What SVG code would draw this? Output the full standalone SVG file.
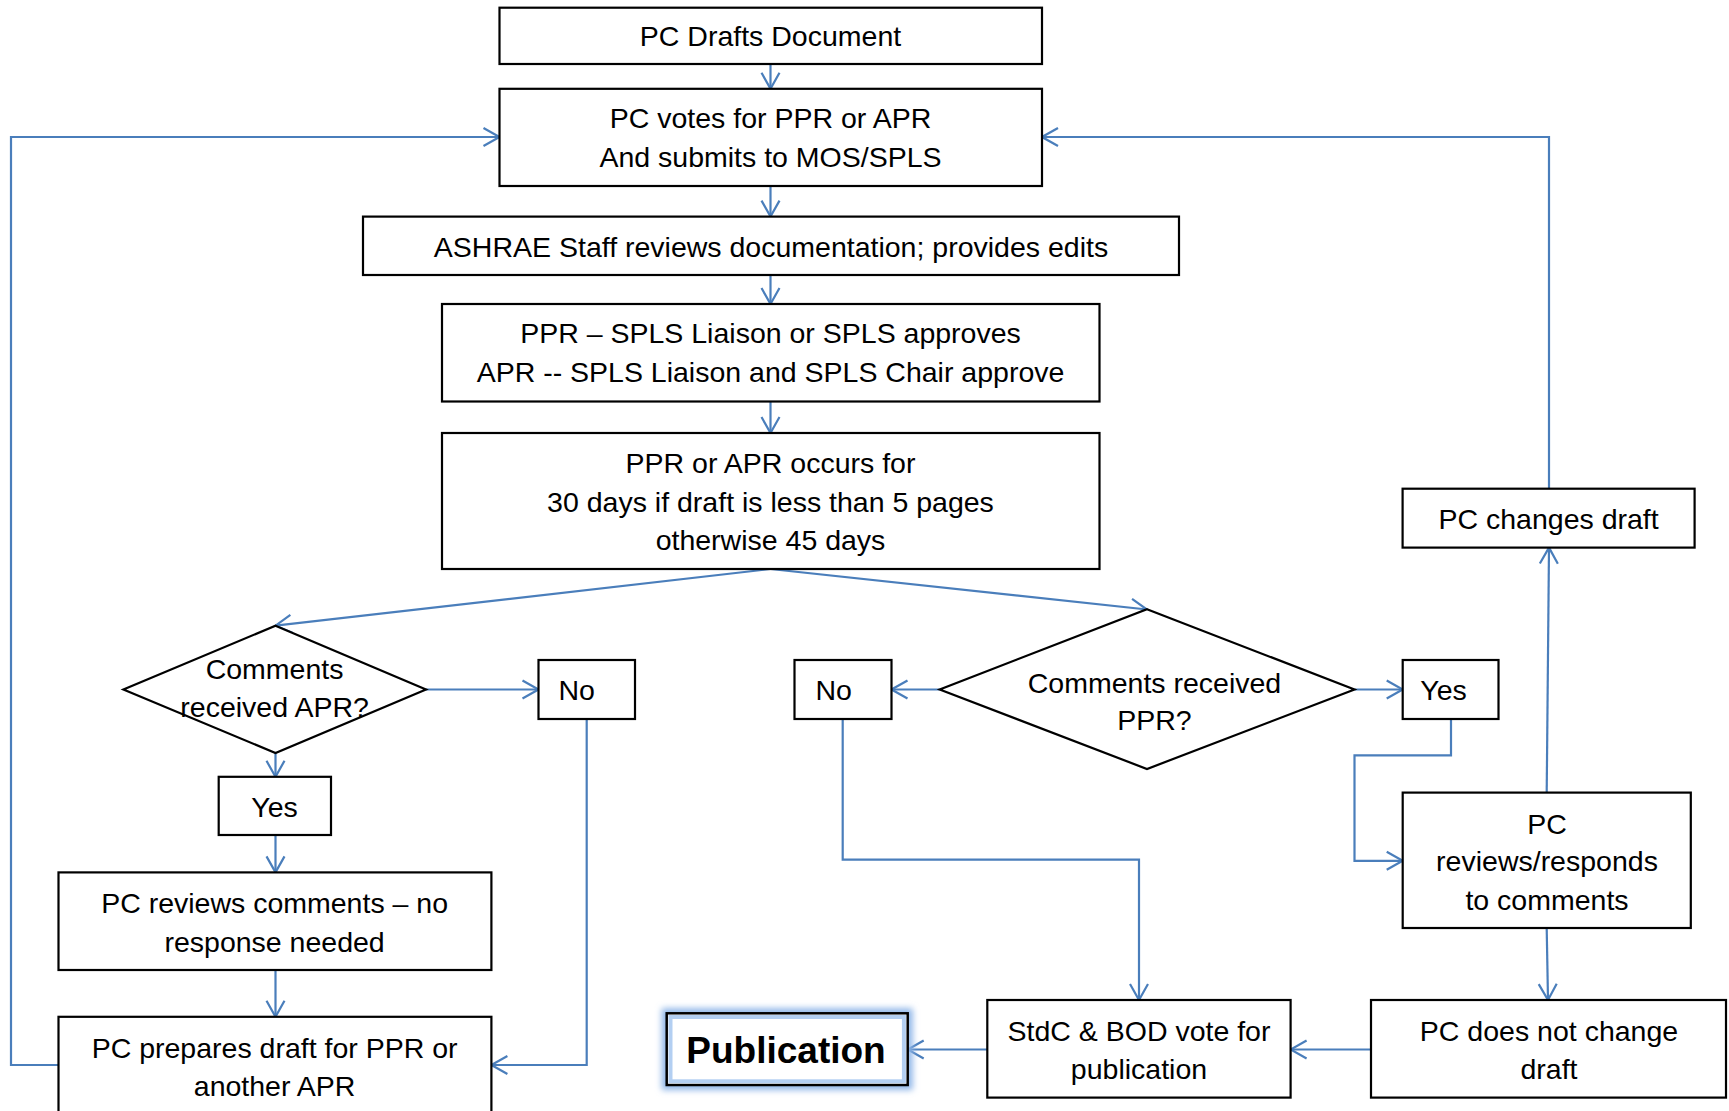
<svg xmlns="http://www.w3.org/2000/svg" width="1729" height="1111" viewBox="0 0 1729 1111">
<style>
.box{fill:#fff;stroke:#000;stroke-width:2.2}
.t{font-family:"Liberation Sans","Noto Sans",sans-serif;font-size:28.5px;fill:#000;text-anchor:middle;dominant-baseline:central}
.c{fill:none;stroke:#4a7ebb;stroke-width:2.2}
</style>
<defs>
<marker id="a" markerUnits="userSpaceOnUse" markerWidth="22" markerHeight="22" viewBox="0 0 22 22" refX="20" refY="11" orient="auto">
<path d="M4,2 L20,11 L4,20" fill="none" stroke="#4a7ebb" stroke-width="2.2"/>
</marker>
<filter id="glow" x="-20%" y="-30%" width="140%" height="160%"><feGaussianBlur stdDeviation="3"/></filter>
</defs>
<rect width="1729" height="1111" fill="#fff"/>
<g id="connectors">
<path class="c" marker-end="url(#a)" d="M770.5,64 L770.5,88.8"/>
<path class="c" marker-end="url(#a)" d="M770.5,186 L770.5,216.6"/>
<path class="c" marker-end="url(#a)" d="M770.5,275 L770.5,304"/>
<path class="c" marker-end="url(#a)" d="M770.5,401.5 L770.5,433"/>
<path class="c" marker-end="url(#a)" d="M770.5,569 L275.5,625.7"/>
<path class="c" marker-end="url(#a)" d="M770.5,569 L1147,609.5"/>
<path class="c" marker-end="url(#a)" d="M426,689.5 L538.5,689.5"/>
<path class="c" marker-end="url(#a)" d="M275.5,753 L275.5,776.8"/>
<path class="c" marker-end="url(#a)" d="M275.5,835 L275.5,872.4"/>
<path class="c" marker-end="url(#a)" d="M275.5,970 L275.5,1016.8"/>
<path class="c" marker-end="url(#a)" d="M58.5,1065 L11,1065 L11,137 L499.5,137"/>
<path class="c" marker-end="url(#a)" d="M586.7,713 L586.7,1065 L491.4,1065"/>
<path class="c" marker-end="url(#a)" d="M939.7,689.5 L891.5,689.5"/>
<path class="c" marker-end="url(#a)" d="M842.7,719 L842.7,859.7 L1139,859.7 L1139,1000"/>
<path class="c" marker-end="url(#a)" d="M1354.5,689.5 L1402.7,689.5"/>
<path class="c" marker-end="url(#a)" d="M1451,719 L1451,755.4 L1354.5,755.4 L1354.5,860.8 L1402.7,860.8"/>
<path class="c" marker-end="url(#a)" d="M1546.7,792.6 L1549,547.6"/>
<path class="c" marker-end="url(#a)" d="M1549,488.7 L1549,137 L1042,137"/>
<path class="c" marker-end="url(#a)" d="M1546.7,928 L1548,1000"/>
<path class="c" marker-end="url(#a)" d="M1371,1049.5 L1290.6,1049.5"/>
<path class="c" marker-end="url(#a)" d="M987.3,1049.5 L907.7,1049.5"/>
</g>
<g id="n1"><rect class="box" x="499.5" y="7.7" width="542.5" height="56.3"/><text class="t" x="770.5" y="36">PC Drafts Document</text></g>
<g id="n2"><rect class="box" x="499.5" y="88.8" width="542.5" height="97.2"/><text class="t" x="770.5" y="118">PC votes for PPR or APR</text><text class="t" x="770.5" y="156.6">And submits to MOS/SPLS</text></g>
<g id="n3"><rect class="box" x="363" y="216.6" width="816" height="58.4"/><text class="t" x="771" y="247">ASHRAE Staff reviews documentation; provides edits</text></g>
<g id="n4"><rect class="box" x="442" y="304" width="657.5" height="97.5"/><text class="t" x="770.5" y="333">PPR – SPLS Liaison or SPLS approves</text><text class="t" x="770.5" y="371.6">APR -- SPLS Liaison and SPLS Chair approve</text></g>
<g id="n5"><rect class="box" x="442" y="433" width="657.5" height="136"/><text class="t" x="770.5" y="463">PPR or APR occurs for</text><text class="t" x="770.5" y="501.7">30 days if draft is less than 5 pages</text><text class="t" x="770.5" y="540.3">otherwise 45 days</text></g>
<g id="n6"><rect class="box" x="1402.6" y="488.7" width="292" height="58.9"/><text class="t" x="1548.6" y="519">PC changes draft</text></g>
<g id="d1"><polygon class="box" points="275.5,625.7 426,689.5 275.5,753 123.4,689.5"/><text class="t" x="274.6" y="669">Comments</text><text class="t" x="274.6" y="707">received APR?</text></g>
<g id="n7"><rect class="box" x="538.5" y="660" width="96.5" height="59"/><text class="t" x="576.7" y="690">No</text></g>
<g id="n8"><rect class="box" x="794.5" y="660" width="97" height="59"/><text class="t" x="833.6" y="690">No</text></g>
<g id="d2"><polygon class="box" points="1147,609.2 1354.5,689.5 1147,769 939.7,689.5"/><text class="t" x="1154.5" y="682.5">Comments received</text><text class="t" x="1154.5" y="720">PPR?</text></g>
<g id="n9"><rect class="box" x="1402.7" y="660" width="95.8" height="59"/><text class="t" x="1443.5" y="690">Yes</text></g>
<g id="n10"><rect class="box" x="218.7" y="776.8" width="112.3" height="58.2"/><text class="t" x="274.6" y="807">Yes</text></g>
<g id="n11"><rect class="box" x="58.5" y="872.4" width="432.9" height="97.6"/><text class="t" x="274.6" y="903">PC reviews comments – no</text><text class="t" x="274.6" y="941.7">response needed</text></g>
<g id="n12"><rect class="box" x="1402.7" y="792.6" width="288.1" height="135.4"/><text class="t" x="1547" y="823.7">PC</text><text class="t" x="1547" y="861">reviews/responds</text><text class="t" x="1547" y="899.8">to comments</text></g>
<g id="n13"><rect class="box" x="58.5" y="1016.8" width="432.9" height="110"/><text class="t" x="274.6" y="1047.6">PC prepares draft for PPR or</text><text class="t" x="274.6" y="1086">another APR</text></g>
<g id="n14"><rect class="box" x="987.3" y="1000" width="303.3" height="97.6"/><text class="t" x="1139" y="1031">StdC &amp; BOD vote for</text><text class="t" x="1139" y="1068.5">publication</text></g>
<g id="n15"><rect class="box" x="1371" y="1000" width="355" height="97.6"/><text class="t" x="1549" y="1031">PC does not change</text><text class="t" x="1549" y="1068.5">draft</text></g>
<g id="n16">
<rect x="666.7" y="1013.3" width="241" height="71.7" fill="none" stroke="#8fb6e8" stroke-width="10" filter="url(#glow)"/>
<rect x="666.7" y="1013.3" width="241" height="71.7" fill="#fff" stroke="#000" stroke-width="2.5"/>
<rect x="670.5" y="1017" width="233.4" height="64.3" fill="none" stroke="#b3cff2" stroke-width="4"/>
<text class="t" x="786" y="1050" style="font-size:37px;font-weight:bold">Publication</text>
</g>
</svg>
